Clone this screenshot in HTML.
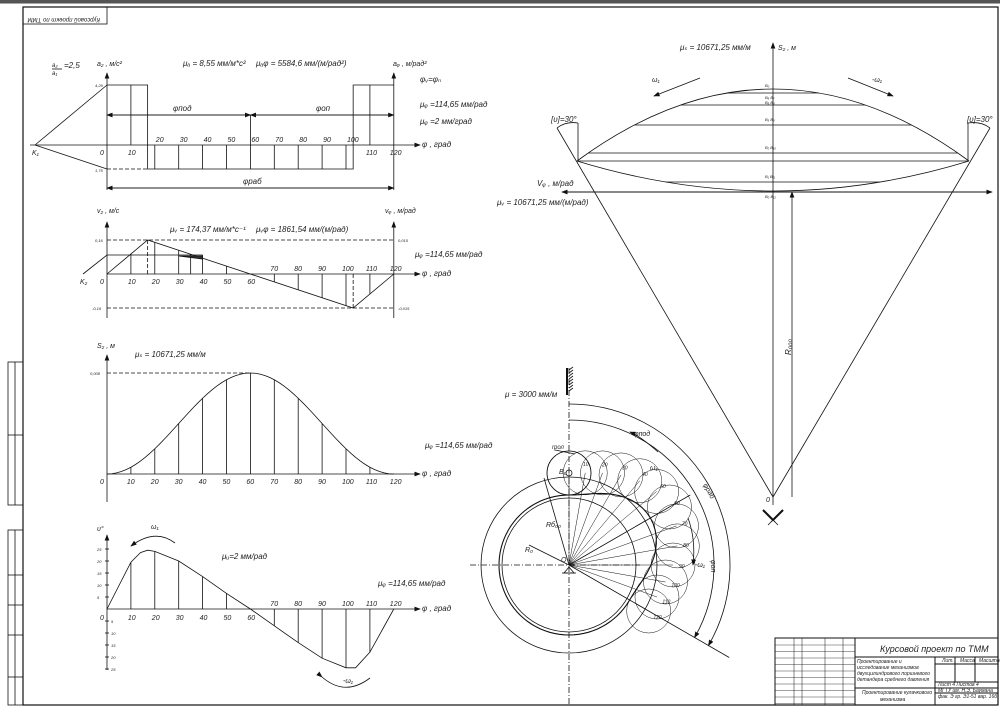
<!DOCTYPE html>
<html><head><meta charset="utf-8"><style>
html,body{margin:0;padding:0;background:#fff;}
svg{display:block;font-family:"Liberation Sans","DejaVu Sans",sans-serif;font-style:italic;}
text{fill:#222;}
</style></head><body>
<svg id="s" width="1000" height="710" viewBox="0 0 1000 710" xmlns="http://www.w3.org/2000/svg" stroke="#111" fill="none" stroke-width="0.8">
<defs><marker id="a" markerWidth="8" markerHeight="6" refX="7" refY="3" orient="auto"><path d="M0,0 L8,3 L0,6 z" fill="#111" stroke="none"/></marker></defs>
<rect x="0" y="0" width="1000" height="3" fill="#555" stroke="none"/>
<line x1="0" y1="3.5" x2="1000" y2="3.5" stroke="#888"/>
<rect x="23" y="7" width="975" height="698" stroke-width="1.2"/>
<rect x="23" y="7" width="84" height="17"/>
<text x="30" y="14" font-size="6" transform="rotate(180 65 16)" stroke="none">Курсовой проект по ТММ</text>
<g stroke-width="0.8">
<rect x="8" y="362" width="15" height="143"/><line x1="15" y1="362" x2="15" y2="505"/><line x1="8" y1="435" x2="23" y2="435"/>
<rect x="8" y="530" width="15" height="175"/><line x1="15" y1="530" x2="15" y2="705"/>
<line x1="8" y1="575" x2="23" y2="575"/><line x1="8" y1="605" x2="23" y2="605"/><line x1="8" y1="635" x2="23" y2="635"/><line x1="8" y1="677" x2="23" y2="677"/>
</g>
<g id="g"></g>
<!-- title block -->
<g stroke-width="1">
<rect x="775" y="638" width="223" height="67"/>
<line x1="855" y1="638" x2="855" y2="705"/>
<line x1="855" y1="657" x2="998" y2="657"/>
<line x1="855" y1="688" x2="998" y2="688"/>
<line x1="935" y1="657" x2="935" y2="705"/>
<line x1="935" y1="664" x2="998" y2="664"/>
<line x1="935" y1="682" x2="998" y2="682"/>
<line x1="935" y1="693" x2="998" y2="693"/>
<line x1="955" y1="657" x2="955" y2="682"/>
<line x1="975" y1="657" x2="975" y2="682"/>
<line x1="794" y1="638" x2="794" y2="705" stroke-width="0.5"/>
<line x1="802" y1="638" x2="802" y2="705" stroke-width="0.5"/>
<line x1="825" y1="638" x2="825" y2="705" stroke-width="0.5"/>
<line x1="843" y1="638" x2="843" y2="705" stroke-width="0.5"/>
</g>
<g stroke-width="0.4" id="tb"></g>
<text x="880" y="652" font-size="9" stroke="none">Курсовой проект по ТММ</text>
<g font-size="5" stroke="none">
<text x="857" y="663">Проектирование  и</text>
<text x="857" y="669">исследование механизмов</text>
<text x="857" y="675">двухцилиндрового поршневого</text>
<text x="857" y="681">детандера среднего давления</text>
<text x="862" y="694">Проектирование кулачкового</text>
<text x="880" y="701">механизма</text>
<text x="938" y="686">Лист 4     Листов 4</text>
<text x="938" y="692">МГТУ им. Н.Э. Баумана</text>
<text x="938" y="698">фак. Э гр. Э1-51 вар. 16б</text>
<text x="942" y="662">Лит.</text><text x="960" y="662">Масса</text><text x="979" y="662">Масштаб</text>
</g>
<script>
var g=document.getElementById('g'),NS="http://www.w3.org/2000/svg";
function el(t,a,txt){var e=document.createElementNS(NS,t);for(var k in a)e.setAttribute(k,a[k]);if(txt!==undefined)e.textContent=txt;g.appendChild(e);return e;}
function L(x1,y1,x2,y2,o){var a={x1:x1,y1:y1,x2:x2,y2:y2};if(o)for(var k in o)a[k]=o[k];return el('line',a);}
function T(x,y,s,fs,o){var a={x:x,y:y,'font-size':fs||8,stroke:'none'};if(o)for(var k in o)a[k]=o[k];return el('text',a,s);}
function P(d,o){var a={d:d};if(o)for(var k in o)a[k]=o[k];return el('path',a);}
var X0=107,sx=2.39;function X(p){return X0+p*sx;}
var ar={'marker-end':'url(#a)'};var dash={'stroke-dasharray':'4,2'};
// ---------- plot 1
var y1=145;
L(X0,190,X0,73,ar);L(X(120),190,X(120),73,ar);L(30,y1,420,y1,ar);
P('M'+X0+',85 H'+X(17)+' V169 H'+X(103)+' V85 H'+X(120));
L(X0,169,X(17),169,dash);
L(X(10),85,X(10),y1);L(X(110),85,X(110),y1);
for(var p=20;p<=100;p+=10)L(X(p),y1,X(p),169);
L(35,y1,X0,85);L(35,y1,X0,169);
L(X0,115,X(60),115,ar);L(X(60),115,X0,115,ar);L(X(60),115,X(120),115,ar);L(X(120),115,X(60),115,ar);L(X(60),115,X(60),y1);
L(X0,188,X(120),188,ar);L(X(120),188,X0,188,ar);
T(32,155,'K₁',7);T(100,155,'0',7);T(95,87,'4,29',4);T(95,172,'1,75',4);
[10].forEach(function(p){T(X(p)-3,155,p,7)});[110,120].forEach(function(p){T(X(p)-4,155,p,7)});
[20,30,40,50,60,70,80,90,100].forEach(function(p){T(X(p)+1,142,p,7)});
T(422,147,'φ , град',8);T(52,67,'a₂',6);T(52,75,'a₁',6);L(52,69,62,69);T(64,68,'=2,5',8);
T(97,66,'a₂ , м/с²',7);T(183,66,'μₐ = 8,55 мм/м*с²',8);T(256,66,'μₐφ = 5584,6 мм/(м/рад²)',8);
T(393,66,'aᵩ , м/рад²',7);T(420,82,'φᵥ=φₙ',8);T(420,107,'μᵩ =114,65 мм/рад',8);T(420,124,'μᵩ =2 мм/град',8);
T(173,111,'φпод',8);T(316,111,'φоп',8);T(243,184,'φраб',8);
// ---------- plot 2
var y2=274;
L(X0,318,X0,222,ar);L(X(120),318,X(120),222,ar);L(X0,y2,420,y2,ar);
L(X0,240,X(120),240,dash);L(X0,308,X(120),308,dash);
P('M'+X0+','+y2+' L'+X(17)+',240 L'+X(103)+',308 L'+X(120)+','+y2);
L(X(17),240,X(17),y2,dash);L(X(103),308,X(103),y2,dash);
P('M83,'+y2+' L'+X0+',255 H'+X(40));
function vel(p){if(p<=17)return y2-34*p/17;if(p<=103)return 240+68*(p-17)/86;return 308-34*(p-103)/17;}
[10,20,30,35,40,50,70,80,90,100,110].forEach(function(p){L(X(p),y2,X(p),p<=40?Math.min(vel(p),255):vel(p))});
P('M'+X(30)+',256 L'+X(40)+',256 L'+X(40)+',259 z',{fill:'#333'});
T(80,284,'K₂',7);T(100,284,'0',7);T(95,242,'0,16',4);T(92,310,'-0,16',4);T(398,242,'0,015',4);T(398,310,'-0,015',4);
[10,20,30,40,50,60].forEach(function(p){T(X(p)-3,284,p,7)});[70,80,90,100,110,120].forEach(function(p){T(X(p)-4,271,p,7)});
T(422,276,'φ , град',8);T(97,213,'v₂ , м/с',7);T(170,232,'μᵥ = 174,37 мм/м*с⁻¹',8);T(256,232,'μᵥφ = 1861,54 мм/(м/рад)',8);
T(385,213,'vᵩ , м/рад',7);T(415,257,'μᵩ =114,65 мм/рад',8);
// ---------- plot 3
var y3=474;
L(X0,502,X0,355,ar);L(X0,474,420,474,ar);L(X0,373,X(60),373,dash);
var d='';for(var p=0;p<=120;p+=2){var yy=y3-101*(1-Math.cos(2*Math.PI*p/120))/2;d+=(p?'L':'M')+X(p)+','+yy;}P(d);
for(var p=10;p<=110;p+=10)L(X(p),y3,X(p),y3-101*(1-Math.cos(2*Math.PI*p/120))/2);
T(100,484,'0',7);T(90,375,'0,008',4);for(var p=10;p<=120;p+=10)T(X(p)-4,484,p,7);
T(422,476,'φ , град',8);T(97,348,'S₂ , м',7);T(135,357,'μₛ = 10671,25 мм/м',8);T(425,448,'μᵩ =114,65 мм/рад',8);
// ---------- plot 4
var y4=609;
L(X0,670,X0,535,ar);L(X0,y4,420,y4,ar);
function th(p){if(p<=10)return 20*p/10;if(p<=60){var u=(p-10)/50;return 20+4.5*Math.sin(Math.PI*Math.min(u*6.7,1)/2)*(u<0.15?1:1)-(24.5)*Math.pow(Math.max(0,(p-17)/43),1.1);}if(p<=103){var u=(p-60)/43;return -24*Math.sin(u*Math.PI/2);}var u=(p-103)/17;return -24*(1-u*u*0.7-u*0.3);}
d='';var pts=[[0,0],[10,19.5],[14,23.5],[17,24.5],[20,24],[30,20],[40,13.5],[50,6.5],[60,0],[70,-7],[80,-14],[90,-20.5],[100,-24.5],[104,-24.5],[110,-18],[120,0]];
pts.forEach(function(q,i){d+=(i?'L':'M')+X(q[0])+','+(y4-q[1]*2.4)});P(d);
pts.forEach(function(q){if(q[0]%10==0&&q[0]>0&&q[0]<120&&q[0]!=60)L(X(q[0]),y4,X(q[0]),y4-q[1]*2.4)});
for(var k=5;k<=25;k+=5){L(X0-2,y4-k*2.4,X0+2,y4-k*2.4);T(97,y4-k*2.4+2,k,4);L(X0-2,y4+k*2.4,X0+2,y4+k*2.4);T(111,y4+k*2.4+2,k,4);}
T(100,620,'0',7);[10,20,30,40,50,60].forEach(function(p){T(X(p)-3,620,p,7)});[70,80,90,100,110,120].forEach(function(p){T(X(p)-4,606,p,7)});
T(422,611,'φ , град',8);T(97,531,'υ°',7);T(222,559,'μᵤ=2 мм/рад',8);T(378,586,'μᵩ =114,65 мм/рад',8);
P('M175,543 Q155,528 131,546',ar);T(151,529,'ω₁',7);P('M322,677 Q345,697 370,678',{'marker-start':'url(#a)'});T(343,683,'-ω₁',7);
// ---------- right top
var Ox=773,Oy=497;
L(Ox,505,Ox,43,ar);L(562,192,992,192);L(992,192,562,192,ar);L(562,192,992,192,ar);
P('M577,161 Q773,17 969,161');P('M577,161 Q773,221 969,161');
function ux(y){var t=Math.sqrt(Math.max(0,1-(161-y)/72));return t*196;}
[93,105,125,153].forEach(function(y){var w=ux(y);L(Ox-w,y,Ox+w,y)});
L(577,161,969,161);var w2=196*Math.sqrt(1-(182-161)/30);L(Ox-w2,182,Ox+w2,182);
L(557,128,Ox,Oy);L(990,128,Ox,Oy);L(578,123,578,161);L(968,123,968,161);
P('M557,128 Q566,121 578,123');P('M990,128 Q981,121 968,123');
L(792,Oy,792,192,ar);
T(680,50,'μₛ = 10671,25 мм/м',8);T(778,50,'S₂ , м',7);T(652,82,'ω₁',7);T(872,82,'-ω₁',7);
L(700,78,654,96,ar);L(848,78,893,96,ar);
T(551,122,'[υ]=30°',8);T(967,122,'[υ]=30°',8);T(537,186,'Vᵩ , м/рад',8);T(497,205,'μᵥ = 10671,25  мм/(м/рад)',8);
[[87,'B₀'],[99,'B₆ B₇'],[104,'B₅ B₈'],[121,'B₃ B₉'],[149,'B₂ B₁₀'],[178,'B₁ B₁₁'],[198,'B₀ B₁₂']].forEach(function(q){T(765,q[0],q[1],4)});
T(785,355,'R₀₀₀',8,{transform:'rotate(-90 788 352)'});T(766,502,'0',7);
for(var i=0;i<6;i++){L(763+i*3,510+i*3,773,520);L(783-i*3,510+i*3,773,520);}
L(763,510,773,520,{'stroke-width':2});L(783,510,773,520,{'stroke-width':2});
// ---------- cam
var cx=569,cy=565;
L(cx,368,cx,705,{'stroke-dasharray':'6,2,1,2'});L(470,cy,640,cy,{'stroke-dasharray':'6,2,1,2'});
L(cx-2,368,cx-2,395,{'stroke-width':2});for(var i=0;i<8;i++)L(cx,370+i*3,cx+4,367+i*3);
T(505,397,'μ = 3000 мм/м',8);
el('circle',{cx:cx,cy:cy,r:88});el('circle',{cx:cx,cy:cy,r:67});
function S3(p){return 24*(1-Math.cos(2*Math.PI*p/120))/2;}
var R0=92,rr=22,dp='',dp2='';
for(var p=0;p<=120;p+=10){var a=p*Math.PI/180,r=R0+S3(p);var x=cx+r*Math.sin(a),y=cy-r*Math.cos(a);
 el('circle',{cx:x,cy:y,r:rr,'stroke-width':0.5});L(cx,cy,x,y,{'stroke-width':0.5});
 T(cx+(r+10)*Math.sin(a)-4,cy-(r+10)*Math.cos(a)+3,p==0?'':p,5);}
for(var p=0;p<=360;p+=4){var q=p>120?0:p;var a=p*Math.PI/180,r=R0+S3(q)-rr;dp+=(p?'L':'M')+(cx+r*Math.sin(a))+','+(cy-r*Math.cos(a));}
P(dp+'z',{'stroke-width':1.1});
el('circle',{cx:cx,cy:473,r:22});el('circle',{cx:cx,cy:473,r:3});
T(559,474,'B₀',7);T(552,449,'rрол',6);L(575,454,555,450);
var a1=120*Math.PI/180;L(cx,cy,cx+185*Math.sin(a1),cy-185*Math.cos(a1));
P('M'+cx+','+(cy-145)+' A145,145 0 0,1 '+(cx+145*Math.sin(a1))+','+(cy-145*Math.cos(a1)),ar);
P('M'+cx+','+(cy-161)+' A161,161 0 0,1 '+(cx+161*Math.sin(a1))+','+(cy-161*Math.cos(a1)),ar);
var a2=60*Math.PI/180;L(cx,cy,cx+140*Math.sin(a2),cy-140*Math.cos(a2));
T(634,436,'φпод',7);T(703,485,'φраб',7,{transform:'rotate(60 703 485)'});T(711,560,'φоп',7,{transform:'rotate(90 711 560)'});
P('M658,452 Q640,436 630,432',ar);T(650,470,'ω₁',7);P('M688,518 Q696,540 693,565',ar);T(695,567,'-ω₁',7);
L(cx,cy,cx-25,cy-92+5);T(546,527,'Rб₀₀',7);L(cx,cy,cx-40,cy-20);T(525,552,'R₀',7);T(561,562,'O',7);
P('M'+(cx-5)+','+(cy+8)+' L'+cx+','+(cy+2)+' L'+(cx+5)+','+(cy+8)+' z');L(cx-7,cy+8,cx+7,cy+8);
// title block rows
var tb=document.getElementById('tb');
for(var y=645;y<705;y+=6.5){var l=document.createElementNS(NS,'line');l.setAttribute('x1',775);l.setAttribute('x2',855);l.setAttribute('y1',y);l.setAttribute('y2',y);tb.appendChild(l);}
</script>
</svg>
</body></html>
